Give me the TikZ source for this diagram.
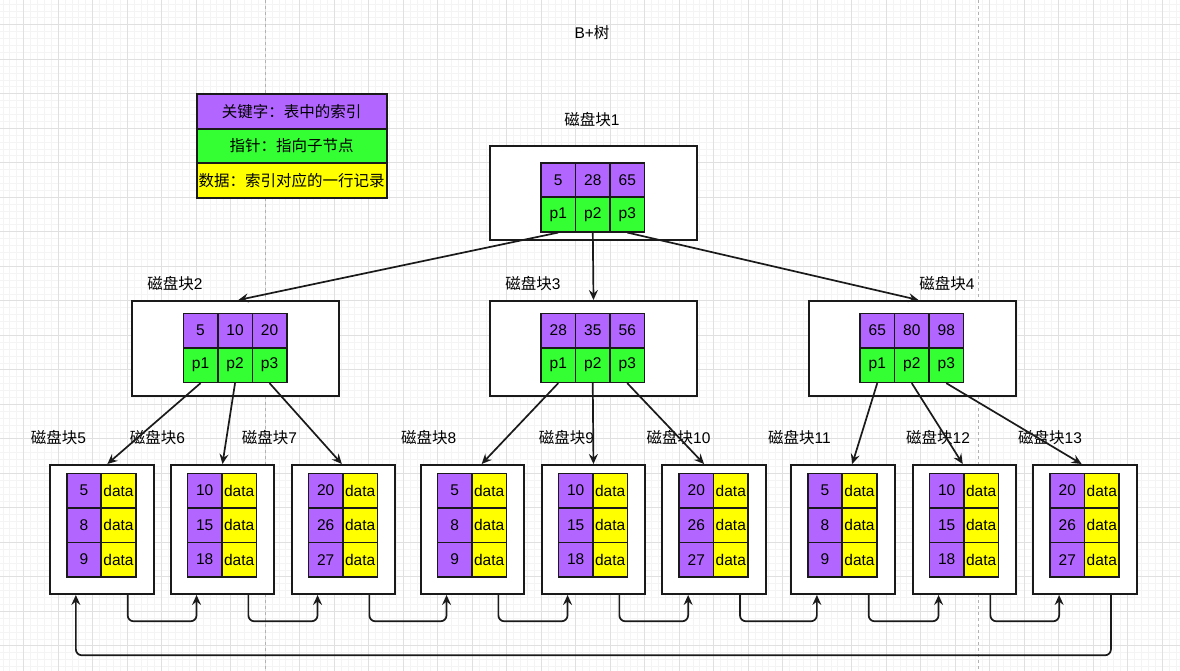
\documentclass[tikz,border=0pt]{standalone}
\usepackage{fontspec}
\setmainfont{Liberation Sans}
\newfontfamily\cjk{Noto Sans CJK SC}
\usetikzlibrary{arrows.meta,calc}
\definecolor{kpurple}{HTML}{B266FF}
\definecolor{pgreen}{HTML}{33FF33}
\definecolor{dyellow}{HTML}{FFFF00}
\definecolor{gridminor}{HTML}{F4F4F4}
\definecolor{gridmajor}{HTML}{E0E0E0}
\definecolor{edge}{HTML}{1A1A1A}
\tikzset{
  cellbase/.style={draw=edge, line width=1.6pt, minimum width=34.5pt, minimum height=34.5pt, inner sep=0pt},
  kcell/.style={cellbase, fill=kpurple},
  pcell/.style={cellbase, fill=pgreen},
  dcell/.style={cellbase, fill=dyellow},
  blockbox/.style={draw=edge, line width=2pt, fill=white, inner sep=0pt},
  legendrow/.style={draw=edge, line width=1.8pt, minimum width=190pt, minimum height=34.5pt, inner sep=0pt},
  lbl/.style={inner sep=0pt},
  conn/.style={draw=edge, line width=1.7pt, -{Stealth[length=10pt,width=9pt,inset=3.5pt]}},
  link/.style={conn, rounded corners=6pt},
}
\begin{document}
\begin{tikzpicture}[x=1pt,y=-1pt,font={\fontsize{15.5}{18}\selectfont}]
\useasboundingbox (0,0) rectangle (1180,671);
\fill[white] (0,0) rectangle (1180,671);
% grid
\foreach \i in {0,...,171} \draw[gridminor, line width=0.6pt] ({\i*6.9+2.8},0) -- ({\i*6.9+2.8},671);
\foreach \i in {0,...,97} \draw[gridminor, line width=0.6pt] (0,{\i*6.9+4.0}) -- (1180,{\i*6.9+4.0});
\foreach \i in {0,...,34} \draw[gridmajor, line width=0.8pt] ({\i*34.5+23.5},0) -- ({\i*34.5+23.5},671);
\foreach \i in {0,...,19} \draw[gridmajor, line width=0.8pt] (0,{\i*34.5+24.7}) -- (1180,{\i*34.5+24.7});
\draw[gray!60, dashed, line width=0.9pt] (265.7,0) -- (265.7,671);
\draw[gray!60, dashed, line width=0.9pt] (978.3,0) -- (978.3,671);

% title
\node[lbl] (title) at (592,33) {B+{\cjk 树}};

% legend
\node[legendrow, fill=kpurple] (lg1) at (291.7,111.5) {\cjk 关键字：表中的索引};
\node[legendrow, fill=pgreen] (lg2) at (291.7,146) {\cjk 指针：指向子节点};
\node[legendrow, fill=dyellow] (lg3) at (291.7,180.5) {\cjk 数据：索引对应的一行记录};

% root
\node[lbl] (t1) at (592,120) {{\cjk 磁盘块}1};
\node[blockbox, minimum width=207pt, minimum height=94pt] (r) at (593.5,193) {};
\node[kcell] (r-k1) at (558.3,180) {5};
\node[kcell] (r-k2) at (592.8,180) {28};
\node[kcell] (r-k3) at (627.3,180) {65};
\node[pcell] (r-p1) at (558.3,214.5) {p1};
\node[pcell] (r-p2) at (592.8,214.5) {p2};
\node[pcell] (r-p3) at (627.3,214.5) {p3};

% level 2
\foreach \n/\cx/\x/\ka/\kb/\kc/\tx in {2/235.35/183.3/5/10/20/175, 3/593.5/541/28/35/56/533, 4/912.5/860/65/80/98/947}{
  \node[lbl] (t\n) at (\tx,284) {{\cjk 磁盘块}\n};
  \node[blockbox, minimum width=207.3pt, minimum height=95pt] (b\n) at (\cx,348.5) {};
  \node[kcell] (b\n-k1) at ({\x+17.25},330.6) {\ka};
  \node[kcell] (b\n-k2) at ({\x+51.75},330.6) {\kb};
  \node[kcell] (b\n-k3) at ({\x+86.25},330.6) {\kc};
  \node[pcell] (b\n-p1) at ({\x+17.25},365.1) {p1};
  \node[pcell] (b\n-p2) at ({\x+51.75},365.1) {p2};
  \node[pcell] (b\n-p3) at ({\x+86.25},365.1) {p3};
}

% leaves
\foreach \n/\x/\a/\b/\c/\tx in {5/50/5/8/9/58.5, 6/170.7/10/15/18/157.5, 7/291.7/20/26/27/269.5, 8/420.7/5/8/9/428.8, 9/541.7/10/15/18/566.5, 10/662.3/20/26/27/678.5, 11/791/5/8/9/799.5, 12/912.7/10/15/18/938, 13/1033.3/20/26/27/1050}{
  \node[lbl] (t\n) at (\tx,438) {{\cjk 磁盘块}\n};
  \node[blockbox, minimum width=103.5pt, minimum height=129pt] (l\n) at ({\x+51.75},529.5) {};
  \node[kcell] (l\n-k1) at ({\x+34},490.6) {\a};
  \node[kcell] (l\n-k2) at ({\x+34},525.1) {\b};
  \node[kcell] (l\n-k3) at ({\x+34},559.6) {\c};
  \node[dcell] (l\n-d1) at ({\x+68.5},490.6) {data};
  \node[dcell] (l\n-d2) at ({\x+68.5},525.1) {data};
  \node[dcell] (l\n-d3) at ({\x+68.5},559.6) {data};
}

% tree edges
\draw[conn] (r-p1.south) -- ([xshift=3pt]b2.north);
\draw[conn] (r-p2.south) -- (b3.north);
\draw[conn] (r-p3.south) -- ([xshift=6pt]b4.north);
\draw[conn] (b2-p1.south) -- ([xshift=5.6pt]l5.north);
\draw[conn] (b2-p2.south) -- (l6.north);
\draw[conn] (b2-p3.south) -- ([xshift=-1.6pt]l7.north);
\draw[conn] (b3-p1.south) -- ([xshift=9.2pt]l8.north);
\draw[conn] (b3-p2.south) -- (l9.north);
\draw[conn] (b3-p3.south) -- ([xshift=-10pt]l10.north);
\draw[conn] (b4-p1.south) -- ([xshift=9.5pt]l11.north);
\draw[conn] (b4-p2.south) -- ([xshift=-1.7pt]l12.north);
\draw[conn] (b4-p3.south) -- ([xshift=-3.4pt]l13.north);

% leaf links
\foreach \i/\j in {5/6,6/7,7/8,8/9,9/10,10/11,11/12,12/13}{
  \draw[link] ([xshift=25.9pt]l\i.south) -- ++(0,26.3) -| ([xshift=-25.9pt]l\j.south);
}
\draw[link] ([xshift=25.9pt]l13.south) -- ++(0,60.3) -| ([xshift=-25.9pt]l5.south);
\end{tikzpicture}
\end{document}
